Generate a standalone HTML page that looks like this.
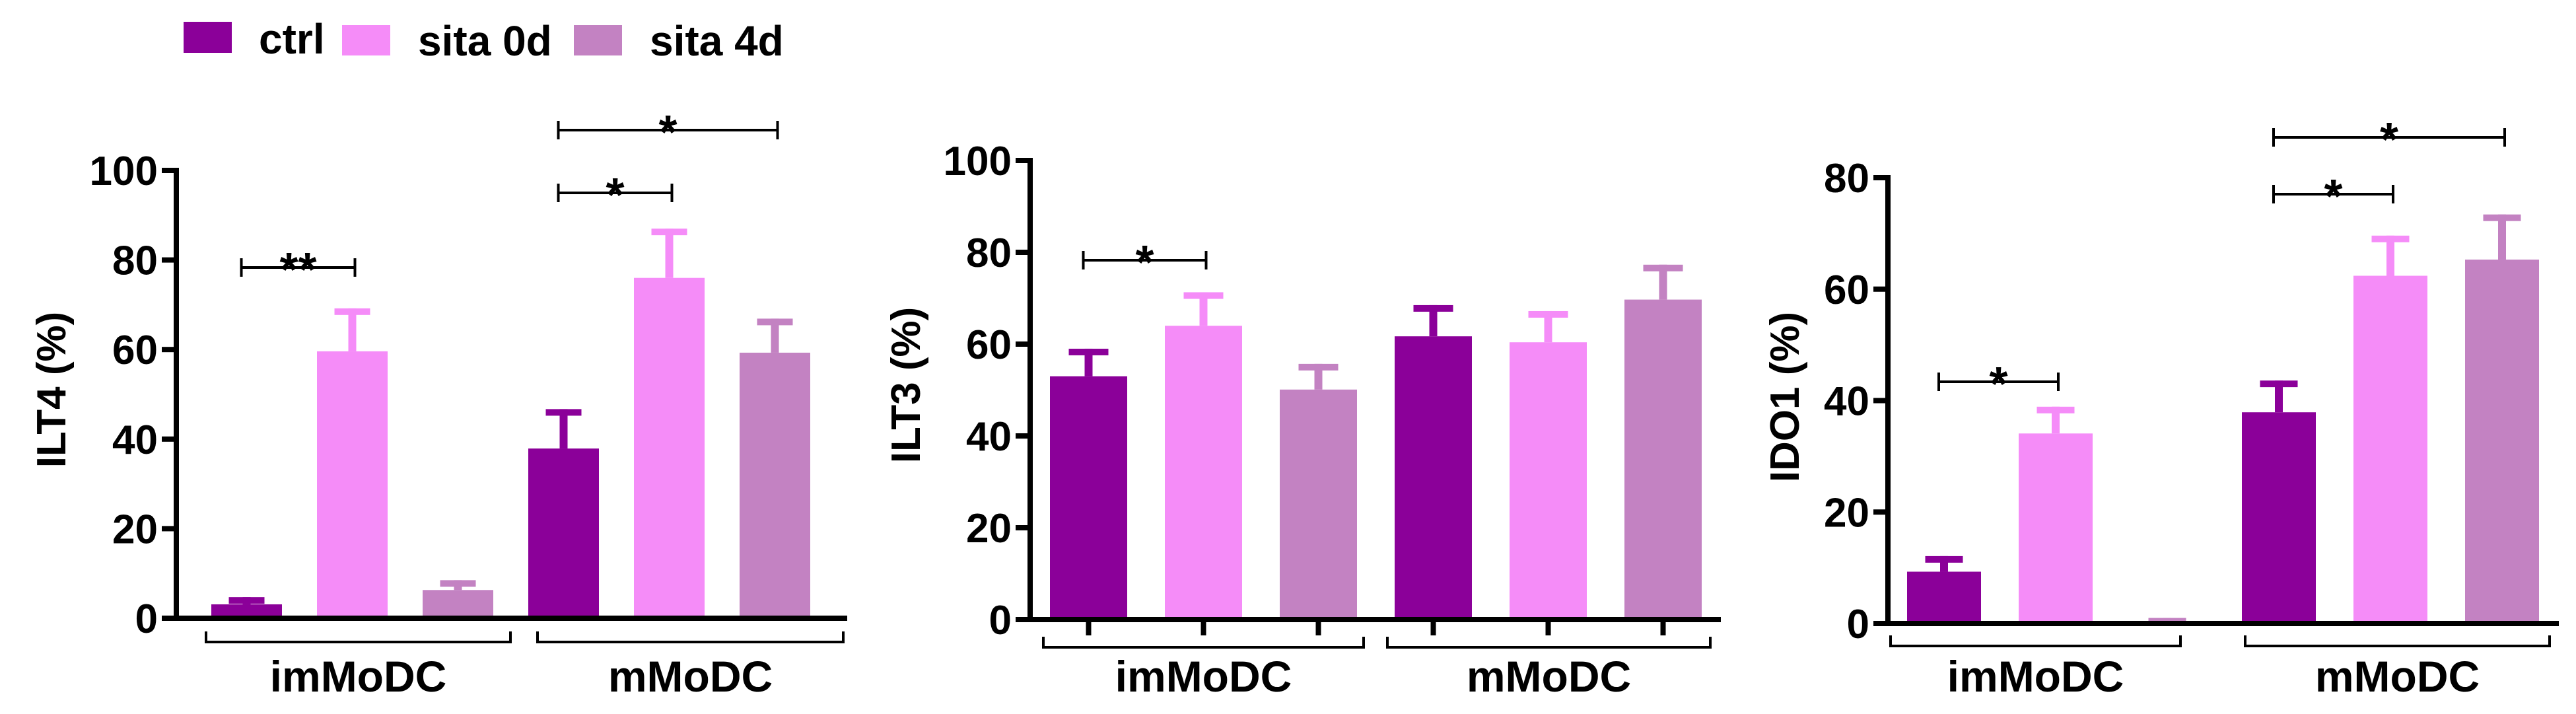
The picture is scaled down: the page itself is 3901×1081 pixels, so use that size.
<!DOCTYPE html>
<html><head><meta charset="utf-8"><style>
html,body{margin:0;padding:0;background:#fff;}
svg{display:block;font-family:"Liberation Sans",Arial,sans-serif;font-weight:bold;}
</style></head><body>
<svg id="chart" width="3901" height="1081" viewBox="0 0 3901 1081" xmlns="http://www.w3.org/2000/svg">
<g>
  <rect x="278" y="33" width="73" height="47" fill="#8B0099"/>
  <text x="392" y="81" font-size="64">ctrl</text>
  <rect x="518" y="38" width="73" height="46" fill="#F58CF8"/>
  <text x="633" y="84" font-size="64">sita 0d</text>
  <rect x="869" y="38" width="73" height="46" fill="#C382C2"/>
  <text x="984" y="84" font-size="64">sita 4d</text>
</g>
</svg>
<script>
// categories and series
const groups = ["imMoDC", "mMoDC"];
const series = ["ctrl", "sita 0d", "sita 4d"];
// ILT4 panel: means and error tops (per group: ctrl, sita0d, sita4d)
const ilt4Mean = [3.1, 59.6, 6.3, 37.9, 76.0, 59.3];
const ilt4Err  = [4.7, 69.2, 8.5, 46.7, 87.0, 66.9];
const ilt4Ticks = [0, 20, 40, 60, 80, 100];
// ILT3 panel
const ilt3Mean = [53.0, 64.0, 50.1, 61.7, 60.4, 69.7];
const ilt3Err  = [59.0, 71.3, 55.7, 68.5, 67.2, 77.3];
const ilt3Ticks = [0, 20, 40, 60, 80, 100];
// IDO1 panel
const ido1Mean = [9.3, 34.1, 0.4, 37.9, 62.4, 65.3];
const ido1Err  = [12.1, 38.9, 1.0, 43.6, 69.6, 73.4];
const ido1Ticks = [0, 20, 40, 60, 80];
// significance annotations: [fromBarIndex, toBarIndex, label]
const ilt4Sig = [[0, 1, "**", 405], [3, 4, "*", 292], [3, 5, "*", 197]];
const ilt3Sig = [[0, 1, "*", 394]];
const ido1Sig = [[0, 1, "*", 578], [3, 4, "*", 294], [3, 5, "*", 208]];

const colors = ["#8B0099", "#F58CF8", "#C382C2"];
const NS = "http://www.w3.org/2000/svg";
const svg = document.getElementById("chart");

function mk(tag, attrs, parent) {
  const e = document.createElementNS(NS, tag);
  for (const k in attrs) e.setAttribute(k, attrs[k]);
  parent.appendChild(e);
  return e;
}

function panel(cfg, means, errs, ticks, sigs) {
  const g = mk("g", {}, svg);
  
  
  const yMax = ticks[ticks.length - 1];
  const y = v => cfg.y0 - (v / yMax) * (cfg.y0 - cfg.yTop);
  const xc = i => cfg.x1 + cfg.bw / 2 + i * cfg.step;
  means.forEach((m, i) => {
    const col = colors[i % 3];
    const cx = xc(i);
    const st = mk("rect", {x: cx - 6, y: y(errs[i]), width: 12, height: Math.max(0, y(m) - y(errs[i])), fill: col}, g);
    
    
    const cap = mk("rect", {x: cx - cfg.cap / 2, y: y(errs[i]), width: cfg.cap, height: 10, fill: col}, g);
    
    
    const b = mk("rect", {x: cx - cfg.bw / 2, y: y(m), width: cfg.bw, height: cfg.y0 - y(m), fill: col}, g);
    
    
    if (cfg.xticks) {
      const t = mk("rect", {x: cx - 4, y: cfg.y0, width: 8, height: 24, fill: "#000"}, g);
      
      
    }
  });
  const ya = mk("rect", {x: cfg.ax - 4, y: cfg.yTop - 4, width: 8, height: cfg.y0 - cfg.yTop + 8, fill: "#000"}, g);
  
  
  const xa = mk("rect", {x: cfg.ax - 4, y: cfg.y0 - 4, width: cfg.axR - cfg.ax + 4, height: 8, fill: "#000"}, g);
  
  
  ticks.forEach(t => {
    const tk = mk("rect", {x: cfg.ax - 22, y: y(t) - 4, width: 20, height: 8, fill: "#000"}, g);
    
    
    const tl = mk("text", {x: cfg.ax - 28, y: y(t) + 22, "font-size": 62, "text-anchor": "end"}, g);
    tl.textContent = t;
    
    
  });
  const yt = mk("text", {x: 0, y: 0, "font-size": 62, "text-anchor": "middle", transform: `translate(${cfg.ylx},${cfg.yly}) rotate(-90)`}, g);
  yt.textContent = cfg.ylabel;
  
  
  cfg.brackets.forEach((br, k) => {
    const p = mk("path", {d: `M${br[0]},${cfg.brY - 16} V${cfg.brY} H${br[1]} V${cfg.brY - 16}`, fill: "none", stroke: "#000", "stroke-width": 4}, g);
    
    
    const gl = mk("text", {x: (br[0] + br[1]) / 2, y: 1047, "font-size": 66, "text-anchor": "middle"}, g);
    gl.textContent = groups[k];
    
    
  });
  sigs.forEach(s => {
    const xa1 = xc(s[0]) - 8, xb1 = xc(s[1]) + 4, yy = s[3];
    const p = mk("path", {d: `M${xa1},${yy - 14} V${yy + 14} M${xa1},${yy} H${xb1} M${xb1},${yy - 14} V${yy + 14}`, fill: "none", stroke: "#000", "stroke-width": 4}, g);
    
    
    const st = mk("text", {x: (xa1 + xb1) / 2, y: yy + 28, "font-size": 72, "text-anchor": "middle"}, g);
    st.textContent = s[2];
    
    
  });
}

panel({name: "ilt4-panel", ax: 267, axR: 1283, y0: 936, yTop: 258, x1: 320, bw: 107, step: 160, cap: 54,
  ylabel: "ILT4 (%)", ylx: 99, yly: 590, brY: 972, brackets: [[312, 773], [814, 1277]], xticks: false},
  ilt4Mean, ilt4Err, ilt4Ticks, ilt4Sig);
panel({name: "ilt3-panel", ax: 1560, axR: 2606, y0: 938, yTop: 243, x1: 1590, bw: 117, step: 174, cap: 60,
  ylabel: "ILT3 (%)", ylx: 1393, yly: 583, brY: 980, brackets: [[1580, 2065], [2101, 2590]], xticks: true},
  ilt3Mean, ilt3Err, ilt3Ticks, ilt3Sig);
panel({name: "ido1-panel", ax: 2859, axR: 3875, y0: 944, yTop: 269, x1: 2888, bw: 112, step: 169, cap: 57,
  ylabel: "IDO1 (%)", ylx: 2724, yly: 601, brY: 978, brackets: [[2863, 3302], [3400, 3861]], xticks: false},
  ido1Mean, ido1Err, ido1Ticks, ido1Sig);
</script>
</body></html>
